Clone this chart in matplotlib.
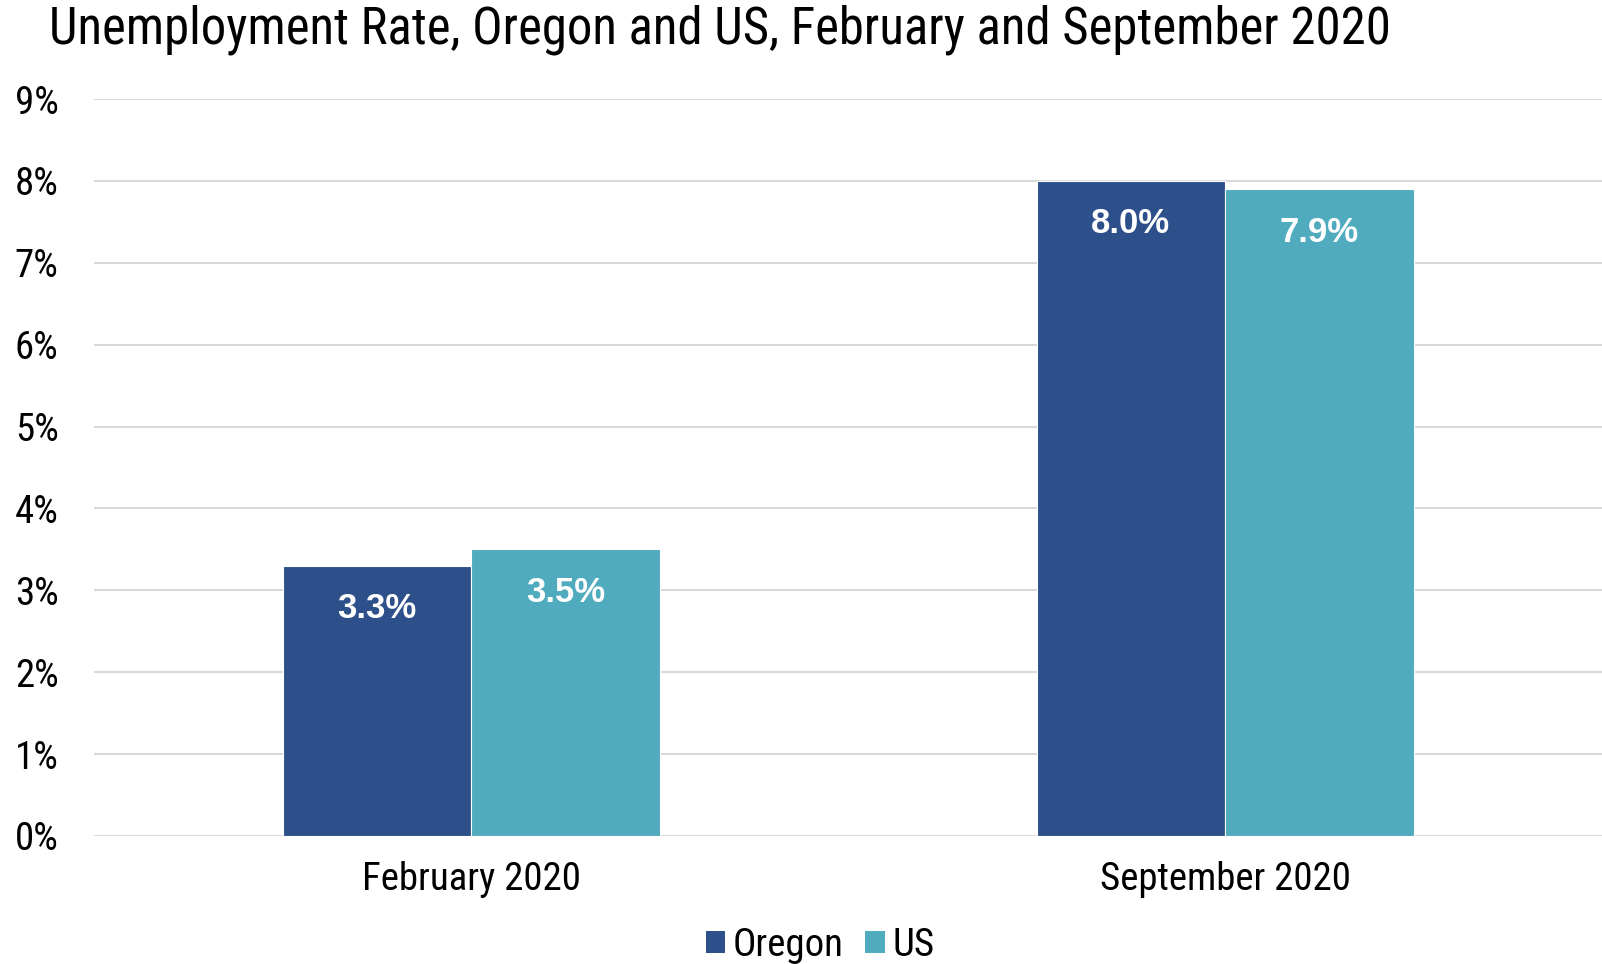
import matplotlib
matplotlib.use("Agg")
import matplotlib.pyplot as plt
from matplotlib import font_manager as fm
from matplotlib.patches import Patch

categories = ["February 2020", "September 2020"]
series_names = ["Oregon", "US"]
oregon = [3.3, 8.0]
us = [3.5, 7.9]
yticks = [0, 1, 2, 3, 4, 5, 6, 7, 8, 9]
title = "Unemployment Rate, Oregon and US, February and September 2020"

colors = ["#2D4F8A", "#4FABBD"]

names = {f.name for f in fm.fontManager.ttflist}
narrow = "Liberation Sans Narrow" if "Liberation Sans Narrow" in names else "Roboto Condensed" if "Roboto Condensed" in names else "Liberation Sans"
plt.rcParams['font.family'] = [narrow, 'DejaVu Sans']

fig = plt.figure(figsize=(16.02, 9.64), dpi=100)
ax = fig.add_axes([0.0587, 0.1328, 0.9413, 0.7645])

w = 0.25
xs = list(range(len(categories)))
b1 = ax.bar([x - w / 2 for x in xs], oregon, width=w, color=colors[0], edgecolor="white", linewidth=0.8, zorder=3)
b2 = ax.bar([x + w / 2 for x in xs], us, width=w, color=colors[1], edgecolor="white", linewidth=0.8, zorder=3)

for bars, vals in ((b1, oregon), (b2, us)):
    for r, v in zip(bars, vals):
        ax.annotate(f"{v:.1f}%", (r.get_x() + r.get_width() / 2, v), xytext=(0, -31),
                    textcoords="offset points", ha="center", va="center",
                    color="white", fontsize=25, fontweight="bold",
                    family=["Liberation Sans", "DejaVu Sans"], zorder=4)

ax.set_xlim(-0.5, 1.5)
ax.set_ylim(0, 9)
ax.set_yticks(yticks)
ax.set_yticklabels([f"{t}%" for t in yticks])
ax.set_xticks(xs)
ax.set_xticklabels(categories)
ax.tick_params(axis="both", length=0, labelsize=28, colors="black")
ax.tick_params(axis="y", pad=57)
ax.tick_params(axis="x", pad=18)
for lab in ax.get_yticklabels():
    lab.set_horizontalalignment("left")
ax.grid(axis="y", color="#D9D9D9", linewidth=1.5, zorder=0)
for s in ax.spines.values():
    s.set_visible(False)

fig.text(0.0306, 0.969, title, fontsize=36.5, va="center", ha="left")

handles = [Patch(facecolor=c, label=n) for c, n in zip(colors, series_names)]
fig.legend(handles=handles, loc="center", bbox_to_anchor=(0.512, 0.019), ncol=2,
           frameon=False, fontsize=28, handlelength=0.5, handleheight=0.5,
           handletextpad=0.2, columnspacing=0.55)

fig.savefig("out.png", dpi=100)
